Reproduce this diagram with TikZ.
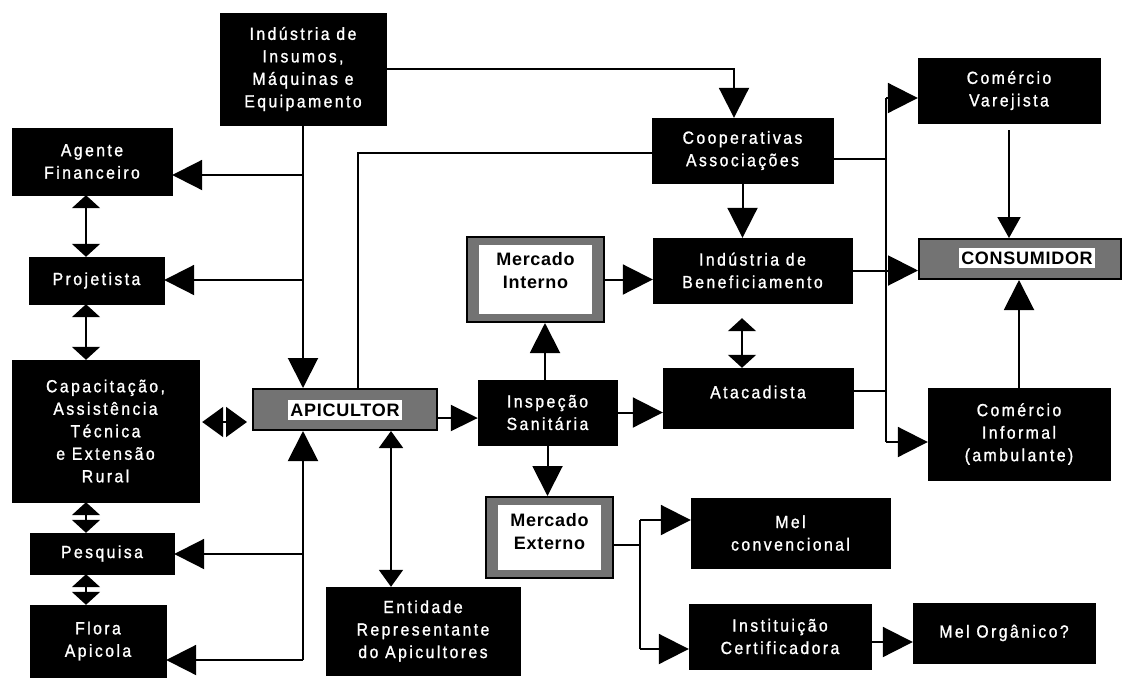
\documentclass[tikz,border=0pt]{standalone}
\usepackage{fontspec}
\setmainfont{Liberation Sans}
\newfontfamily\wfont{Liberation Sans}[FakeStretch=0.9,LetterSpace=14,FakeBold=1.2]
\newfontfamily\gfont{Liberation Sans}[LetterSpace=4]
\usetikzlibrary{arrows.meta,calc}
\begin{document}
\begin{tikzpicture}[x=1pt,y=-1pt,
  blk/.style={fill=black,draw=black,text=white,align=center,inner sep=0pt,
    font=\wfont\fontsize{17.5}{22.5}\selectfont},
  gbox/.style={fill=black!55,draw=black,line width=2pt,inner sep=0pt},
  gtxt/.style={fill=white,inner sep=2pt,align=center,text=black,
    font=\gfont\bfseries\fontsize{18}{23}\selectfont},
  mtxt/.style={inner sep=0pt,align=center,text=black,
    font=\gfont\bfseries\fontsize{18}{23}\selectfont},
  ln/.style={line width=2pt},
  arr/.style={ln,-{Triangle[length=30pt,width=30pt]}},
  arrS/.style={ln,-{Triangle[length=21pt,width=23pt]}},
  arrM/.style={ln,-{Triangle[length=27pt,width=26pt]}},
  darr/.style={ln,{Triangle[length=13pt,width=28pt]}-{Triangle[length=13pt,width=28pt]}},
  darrE/.style={ln,{Triangle[length=17pt,width=24pt]}-{Triangle[length=17pt,width=24pt]}},
  darrH/.style={ln,{Triangle[length=21pt,width=30pt]}-{Triangle[length=21pt,width=30pt]}}
]
\useasboundingbox (0,0) rectangle (1125,681);

% black boxes
\node[blk,minimum width=166pt,minimum height=112pt] (ins) at (303,69) {Indústria de\\Insumos,\\Máquinas e\\Equipamento};
\node[blk,minimum width=160pt,minimum height=67pt] (age) at (92,161.5) {Agente\\Financeiro};
\node[blk,minimum width=135pt,minimum height=47pt] (pro) at (96.5,280.5) {Projetista};
\node[blk,minimum width=187pt,minimum height=142pt] (cap) at (105.5,431) {Capacitação,\\Assistência\\Técnica\\e Extensão\\Rural};
\node[blk,minimum width=144pt,minimum height=41pt] (pes) at (102,553.5) {Pesquisa};
\node[blk,minimum width=136pt,minimum height=72pt] (flo) at (98,641) {Flora\\Apicola};
\node[blk,minimum width=194pt,minimum height=88pt] (ent) at (423,631) {Entidade\\Representante\\do Apicultores};
\node[blk,minimum width=181pt,minimum height=65pt] (coo) at (742.5,150.5) {Cooperativas\\Associações};
\node[blk,minimum width=199pt,minimum height=65pt] (ib) at (752.5,270.5) {Indústria de\\Beneficiamento};
\node[blk,minimum width=139pt,minimum height=65pt] (isp) at (547.5,412.5) {Inspeção\\Sanitária};
\node[blk,minimum width=190pt,minimum height=60pt] (ata) at (758,398) {};
\node[text=white,inner sep=0pt,font=\wfont\fontsize{17.5}{22.5}\selectfont] at (758,392) {Atacadista};
\node[blk,minimum width=199pt,minimum height=70pt] (mc) at (790.5,533) {Mel\\convencional};
\node[blk,minimum width=182pt,minimum height=65pt] (ic) at (780,636.5) {Instituição\\Certificadora};
\node[blk,minimum width=182pt,minimum height=60pt] (mo) at (1004,633) {Mel Orgânico?};
\node[blk,minimum width=182pt,minimum height=65pt] (cv) at (1009,90.5) {Comércio\\Varejista};
\node[blk,minimum width=182pt,minimum height=92pt] (cin) at (1019,434) {Comércio\\Informal\\(ambulante)};

% gray boxes
\node[gbox,minimum width=184pt,minimum height=41pt] (api) at (345,409.5) {};
\node[gtxt,minimum height=20pt] at (345,410) {APICULTOR};
\node[gbox,minimum width=202pt,minimum height=40pt] (con) at (1020,259) {};
\node[gtxt,minimum height=20pt] at (1027,258) {CONSUMIDOR};
\node[gbox,minimum width=137pt,minimum height=85pt] (mi) at (535.5,279.5) {};
\fill[white] (479,245) rectangle (592,314);
\node[mtxt] at (535.5,271) {Mercado\\Interno};
\node[gbox,minimum width=127pt,minimum height=81pt] (me) at (549.5,537.5) {};
\fill[white] (498,505) rectangle (601,570);
\node[mtxt] at (549.5,532) {Mercado\\Externo};

% left vertical from industria de insumos
\draw[arr] (ins.south) -- (ins.south |- api.north);
\coordinate (j1) at (303,175);
\coordinate (j2) at (303,280);
\draw[arr] (j1) -- (j1 -| age.east);
\draw[arr] (j2) -- (j2 -| pro.east);

% bottom vertical into apicultor
\coordinate (j3) at (303,660);
\coordinate (j4) at (303,554);
\draw[arr] (j3) -- (j3 |- api.south);
\draw[arr] (j3) -- (j3 -| flo.east);
\draw[arr] (j4) -- (j4 -| pes.east);

% left column double arrows
\coordinate (q) at (86,0);
\draw[darr] (q |- age.south) -- (q |- pro.north);
\draw[darr] (q |- pro.south) -- (q |- cap.north);
\draw[darr] (q |- cap.south) -- (q |- pes.north);
\draw[darr] (q |- pes.south) -- (q |- flo.north);

% capacitacao <-> apicultor
\coordinate (p5) at (0,422);
\draw[darrH] ($(p5 -| cap.east)+(3,0)$) -- ($(p5 -| api.west)+(-5,0)$);

% apicultor <-> entidade
\coordinate (p4) at (391,0);
\draw[darrE] (p4 |- api.south) -- (p4 |- ent.north);

% industria de insumos -> cooperativas
\coordinate (c1) at (734,69);
\draw[arr] (ins.east) -- (c1) -- (c1 |- coo.north);

% apicultor -- cooperativas
\coordinate (c2) at (358,153);
\draw[ln] (c2 |- api.north) -- (c2) -- (c2 -| coo.west);

% cooperativas -> industria de beneficiamento
\draw[arr] (coo.south) -- (coo.south |- ib.north);

% apicultor -> inspecao
\coordinate (p3) at (0,418);
\draw[arrM] (p3 -| api.east) -- (p3 -| isp.west);

% inspecao -> mercados / atacadista
\coordinate (p1) at (545,0);
\draw[arr] (p1 |- isp.north) -- (p1 |- mi.south);
\draw[arr] (isp.east) -- (isp.east -| ata.west);
\draw[arr] (isp.south) -- (isp.south |- me.north);

% mercado interno -> industria de beneficiamento
\draw[arr] (mi.east) -- (mi.east -| ib.west);

% industria de beneficiamento <-> atacadista
\coordinate (p2) at (742,0);
\draw[darr,shorten <=15pt] (p2 |- ib.south) -- (p2 |- ata.north);

% right bus
\coordinate (btop) at (886,98);
\coordinate (bbot) at (886,442);
\coordinate (b1) at (886,159);
\coordinate (b3) at (886,391);
\draw[ln] (btop) -- (bbot);
\draw[arr] (btop) -- (btop -| cv.west);
\draw[arr] (bbot) -- (bbot -| cin.west);
\draw[ln] (b1 -| coo.east) -- (b1);
\draw[ln] (b3 -| ata.east) -- (b3);
\draw[arr] (ib.east) -- (ib.east -| con.west);

% consumidor inputs
\draw[arrS,shorten <=7pt] (cv.south) -- (cv.south |- con.north);
\draw[arr] (cin.north) -- (cin.north |- con.south);

% mercado externo branches
\coordinate (m1) at (640,545);
\coordinate (m2) at (640,520);
\coordinate (m3) at (640,649);
\draw[ln] (me.east |- m1) -- (m1);
\draw[ln] (m2) -- (m3);
\draw[arr] (m2) -- (m2 -| mc.west);
\draw[arr] (m3) -- (m3 -| ic.west);
\coordinate (m4) at (0,642);
\draw[arr] (m4 -| ic.east) -- (m4 -| mo.west);
\end{tikzpicture}
\end{document}
